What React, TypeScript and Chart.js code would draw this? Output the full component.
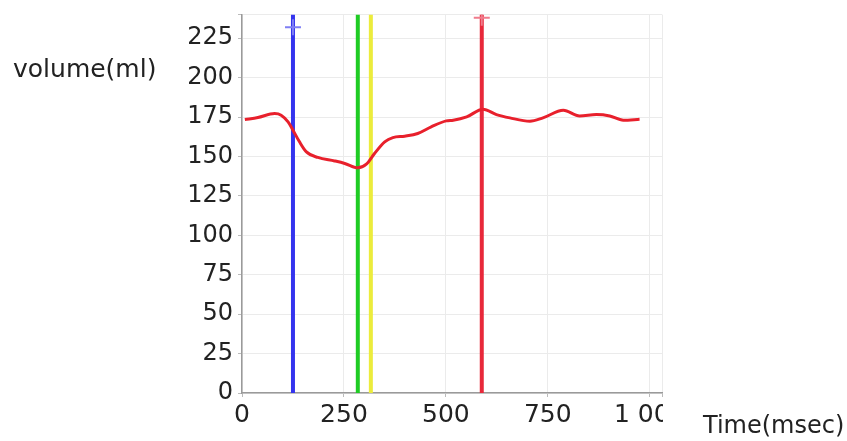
import { useEffect, useRef } from 'react';
import { Chart, registerables } from 'chart.js';

Chart.register(...registerables);

// Volume curve (time in msec, volume in ml)
const timeMs = [7, 39, 80, 96, 113, 125, 141, 158, 186, 227, 252, 284, 305, 325, 350, 370, 399, 431, 464, 501, 518, 551, 591, 624, 657, 706, 738, 788, 828, 869, 902, 935, 975];
const volumeMl = [173.4, 174.7, 177.2, 176.2, 171.9, 166.7, 159.3, 152.9, 149.4, 147.2, 145.6, 142.8, 145.1, 151.9, 159.3, 162.0, 162.9, 164.6, 168.8, 172.6, 173.0, 175.1, 180.0, 176.6, 174.5, 172.4, 174.5, 179.3, 175.7, 176.6, 175.7, 173.0, 173.6];

// Vertical event markers
const markerTimes = [125, 284, 316, 588];
const markerColors = ['#3434ee', '#1fcc24', '#ecec3c', '#e8283a'];

// Small cross markers near the top of two event lines
const crossTimes = [125, 588];
const crossValues = [232, 238];
const crossColors = ['#7f7ff4', '#f07c8c'];

// Axes
const xMax = 1030;
const yMax = 240;
const xTickValues = [0, 250, 500, 750, 1000];
const xTickLabels = ['0', '250', '500', '750', '1 000'];
const yTickValues = [0, 25, 50, 75, 100, 125, 150, 175, 200, 225];
const yTickLabels = ['0', '25', '50', '75', '100', '125', '150', '175', '200', '225'];
const yTitle = 'volume(ml)';
const xTitle = 'Time(msec)';

const FONT = '"DejaVu Sans", sans-serif';

export default function App() {
  const ref = useRef<HTMLCanvasElement | null>(null);

  useEffect(() => {
    if (!ref.current) return;

    const clipAndTitles = {
      id: 'clipAndTitles',
      beforeDraw(chart: any) {
        const { ctx, chartArea, width, height } = chart;
        ctx.save();
        ctx.beginPath();
        ctx.rect(0, 0, width, chartArea.bottom + 3);
        ctx.rect(0, 0, chartArea.right + 1, height);
        ctx.clip();
      },
      afterDraw(chart: any) {
        const { ctx } = chart;
        ctx.restore();
        ctx.save();
        ctx.fillStyle = '#222222';
        ctx.textAlign = 'left';
        ctx.textBaseline = 'alphabetic';
        ctx.font = `25px ${FONT}`;
        ctx.fillText(yTitle, 13, 77);
        ctx.font = `24px ${FONT}`;
        ctx.fillText(xTitle, 703, 433);
        ctx.restore();
      },
    };

    const datasets: any[] = [
      {
        type: 'line',
        data: timeMs.map((t, i) => ({ x: t, y: volumeMl[i] })),
        borderColor: '#e8202c',
        borderWidth: 3,
        pointRadius: 0,
        tension: 0.4,
        cubicInterpolationMode: 'monotone',
      },
      ...crossTimes.map((t, i) => ({
        type: 'scatter',
        data: [{ x: t, y: crossValues[i] }],
        borderColor: crossColors[i],
        backgroundColor: crossColors[i],
        pointStyle: 'cross',
        pointRadius: 8,
        borderWidth: 2,
      })),
      ...markerTimes.map((t, i) => ({
        type: 'line',
        data: [
          { x: t, y: 0 },
          { x: t, y: yMax },
        ],
        borderColor: markerColors[i],
        borderWidth: 4,
        pointRadius: 0,
      })),
    ];

    const chart = new Chart(ref.current, {
      type: 'line',
      data: { datasets },
      plugins: [clipAndTitles],
      options: {
        animation: false,
        responsive: true,
        maintainAspectRatio: false,
        layout: { padding: { left: 0, right: 185, top: 14, bottom: 0 } },
        plugins: { legend: { display: false }, tooltip: { enabled: false } },
        scales: {
          x: {
            type: 'linear',
            min: 0,
            max: xMax,
            afterBuildTicks: (scale: any) => {
              scale.ticks = [...xTickValues, xMax].map((v) => ({ value: v }));
            },
            afterFit: (scale: any) => {
              scale.height = 48;
            },
            grid: { color: '#ebebeb', lineWidth: 1, tickLength: 4, tickColor: '#bbbbbb' },
            border: { color: '#9a9a9a', width: 1.5 },
            ticks: {
              autoSkip: false,
              maxRotation: 0,
              padding: 3,
              color: '#222222',
              font: { family: FONT, size: 25 },
              callback: (_v: any, i: number) => (i < xTickLabels.length ? xTickLabels[i] : ''),
            },
          },
          y: {
            type: 'linear',
            min: 0,
            max: yMax,
            afterBuildTicks: (scale: any) => {
              scale.ticks = [...yTickValues, yMax].map((v) => ({ value: v }));
            },
            afterFit: (scale: any) => {
              scale.width = 242;
            },
            grid: { color: '#ebebeb', lineWidth: 1, tickLength: 4, tickColor: '#bbbbbb' },
            border: { color: '#9a9a9a', width: 1.5 },
            ticks: {
              autoSkip: false,
              padding: 5,
              color: '#222222',
              font: { family: FONT, size: 24, lineHeight: 0.8 },
              callback: (_v: any, i: number) => (i < yTickLabels.length ? yTickLabels[i] : ''),
            },
          },
        },
      },
    });

    return () => chart.destroy();
  }, []);

  return (
    <div style={{ position: 'fixed', left: 0, top: 0, width: 847, height: 441, background: '#fff' }}>
      <canvas ref={ref} />
    </div>
  );
}
